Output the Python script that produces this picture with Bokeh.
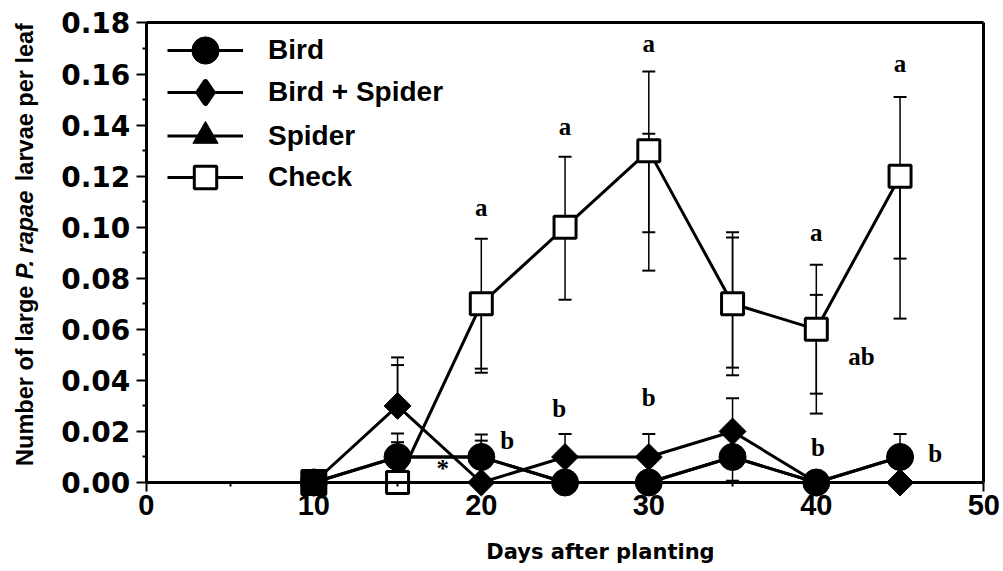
import math
import numpy as np
from bokeh.plotting import figure
from bokeh.models import (Range1d, LinearAxis, FixedTicker, Whisker, TeeHead,
                          ColumnDataSource, Legend, LegendItem, Label)
from bokeh.core.properties import value
from bokeh.embed import file_html
from bokeh.resources import INLINE

# ---------------- data ----------------
days = [10, 15, 20, 25, 30, 35, 40, 45]
bird = [0, 0.01, 0.01, 0, 0, 0.01, 0, 0.01]
bird_spider = [0, 0.03, 0, 0.01, 0.01, 0.02, 0, 0]
spider = [0, 0.01, 0.01, 0, 0, 0.01, 0, 0.01]     # hidden behind the Bird markers
check = [0, 0, 0.07, 0.10, 0.13, 0.07, 0.06, 0.12]

# error-bar ends (two overlaid sets of whiskers as in the original figure)
check_hi1 = [None, None, 0.0955, 0.1276, 0.161, 0.098, 0.0853, 0.151]
check_lo1 = [None, None, 0.0446, 0.0716, 0.098, 0.045, 0.0348, 0.0877]
check_hi2 = [None, None, None, None, 0.1366, 0.096, 0.0735, None]
check_lo2 = [None, None, 0.043, None, 0.083, 0.042, 0.027, 0.0642]
bird_hi1 = [None, 0.0192, 0.0188, None, None, None, None, 0.019]
bird_hi2 = [None, 0.0158, 0.0164, None, None, None, None, None]
bird_lo1 = [None, None, None, None, None, 0.0007, None, None]
bs_hi1 = [None, 0.049, None, 0.019, 0.019, 0.033, None, None]
bs_hi2 = [None, 0.046, None, None, None, None, None, None]

series_names = ["Bird", "Bird + Spider", "Spider", "Check"]

x_ticks = [0, 10, 20, 30, 40, 50]
x_minor = [5, 15, 25, 35, 45]
x_tick_labels = ["0", "10", "20", "30", "40", "50"]
y_ticks = [0.00, 0.02, 0.04, 0.06, 0.08, 0.10, 0.12, 0.14, 0.16, 0.18]
y_minor = [0.01, 0.03, 0.05, 0.07, 0.09, 0.11, 0.13, 0.15, 0.17]
y_tick_labels = ["0.00", "0.02", "0.04", "0.06", "0.08", "0.10", "0.12", "0.14", "0.16", "0.18"]

x_title = "Days after planting"
y_title_parts = ["Number of large", "P. rapae", "larvae per leaf"]

# significance letters
letters = ["a", "a", "a", "a", "a", "ab", "b", "b", "b", "b", "b", "*"]
letter_x = [20, 25, 30, 40, 45, 42.7, 21.55, 24.65, 30, 40.1, 47.1, 17.7]
letter_y = [0.1078, 0.1395, 0.172, 0.0979, 0.164, 0.0495, 0.0164, 0.0290,
            0.0333, 0.0138, 0.0114, 0.0055]

# marker styling for the Check series (the overlapping day-10 point reads as solid)
check_fill = ["black", "white", "white", "white", "white", "white", "white", "white"]
check_size = [24, 22, 22, 22, 22, 22, 22, 22]

# ---------------- figure ----------------
W, H = 1003, 571
X0_PX, PX_PER_DAY = 145.8, 16.75
Y0_PX, PX_PER_UNIT = 482.0, 2552.8
x_range = Range1d(-X0_PX / PX_PER_DAY, (W - X0_PX) / PX_PER_DAY)
y_range = Range1d(-(H - Y0_PX) / PX_PER_UNIT, Y0_PX / PX_PER_UNIT)

SANS = "DejaVu Sans"
LIB = "Liberation Sans"
p = figure(width=W, height=H, x_range=x_range, y_range=y_range,
           output_backend="svg", toolbar_location=None,
           x_axis_location=None, y_axis_location=None,
           min_border=0)
p.outline_line_color = None
p.background_fill_color = "white"
p.border_fill_color = "white"
p.grid.visible = False

xaxis = LinearAxis(fixed_location=0, bounds=(0, 50),
                   ticker=FixedTicker(ticks=x_ticks, minor_ticks=x_minor))
xaxis.major_label_overrides = dict(zip(x_ticks, x_tick_labels))
yaxis = LinearAxis(fixed_location=0, bounds=(0, 0.18),
                   ticker=FixedTicker(ticks=y_ticks, minor_ticks=y_minor))
yaxis.major_label_overrides = dict(zip(y_ticks, y_tick_labels))
for ax in (xaxis, yaxis):
    ax.axis_line_width = 3
    ax.axis_line_color = "black"
    ax.major_tick_line_width = 2
    ax.major_tick_out = 10
    ax.major_tick_in = 0
    ax.minor_tick_line_width = 2
    ax.minor_tick_out = 4
    ax.minor_tick_in = 0
    ax.major_label_text_font_style = "bold"
    ax.major_label_text_color = "black"
xaxis.major_label_text_font = LIB
xaxis.major_label_text_font_size = "29px"
xaxis.major_tick_out = 9
xaxis.major_label_standoff = 3
yaxis.major_label_text_font = SANS
yaxis.major_label_text_font_size = "28px"
yaxis.major_label_standoff = 6
p.add_layout(xaxis, "below")
p.add_layout(yaxis, "left")

top_ax = LinearAxis(fixed_location=0.18, bounds=(0, 50), ticker=FixedTicker(ticks=[]),
                    axis_line_width=3)
right_ax = LinearAxis(fixed_location=50, bounds=(0, 0.18), ticker=FixedTicker(ticks=[]),
                      axis_line_width=3)
p.add_layout(top_ax, "above")
p.add_layout(right_ax, "right")


# ---------------- error bars ----------------
def whisker(xs, means, ends, up=True, cap=13):
    bx, lo, hi = [], [], []
    for x, m, e in zip(xs, means, ends):
        if e is None:
            continue
        bx.append(x)
        if up:
            lo.append(m); hi.append(e)
        else:
            lo.append(e); hi.append(m)
    src = ColumnDataSource(dict(base=bx, lower=lo, upper=hi))
    head = TeeHead(size=cap, line_width=2, line_color="black")
    w = Whisker(base="base", lower="lower", upper="upper", source=src, dimension="height",
                line_width=1.5, line_color="black", level="underlay",
                upper_head=head if up else None, lower_head=None if up else head)
    p.add_layout(w)


whisker(days, check, check_hi1, up=True)
whisker(days, check, check_lo1, up=False)
whisker(days, check, check_hi2, up=True)
whisker(days, check, check_lo2, up=False)
whisker(days, bird, bird_hi1, up=True)
whisker(days, bird, bird_hi2, up=True)
whisker(days, bird, bird_lo1, up=False)
whisker(days, bird_spider, bs_hi1, up=True)
whisker(days, bird_spider, bs_hi2, up=True)

# ---------------- series ----------------
LW = 3
sp_line = p.line(days, spider, line_width=LW, color="black")
ck_line = p.line(days, check, line_width=LW, color="black")
bd_line = p.line(days, bird, line_width=LW, color="black")
bs_line = p.line(days, bird_spider, line_width=LW, color="black")

sp_pts = p.scatter(days, spider, marker="triangle", size=22, color="black")
bd_pts = p.scatter(days, bird, marker="circle", size=27, color="black")
bs_pts = p.scatter(days, bird_spider, marker="square", angle=math.pi / 4, size=19, color="black")
ck_src = ColumnDataSource(dict(x=days, y=check, fill=check_fill, size=check_size))
ck_pts = p.scatter("x", "y", source=ck_src, marker="square", size="size", line_width=3,
                   line_color="black", fill_color="fill")

# legend-only glyphs (the legend draws markers upright, sized from its box)
bs_leg = p.scatter([np.nan], [np.nan], marker="diamond", size=20, line_width=6,
                   line_join="round", color="black")
ck_leg = p.scatter([np.nan], [np.nan], marker="square", size=22, line_width=3,
                   line_color="black", fill_color="white")

# ---------------- legend (one block per row) ----------------
LEG_X = 167
row_centers = [50, 92, 135, 177]
row_renderers = [[bd_line, bd_pts], [bs_line, bs_leg], [sp_line, sp_pts], [ck_line, ck_leg]]
glyph_heights = [68, 52, 63, 56]
for name, rends, cy, gh in zip(series_names, row_renderers, row_centers, glyph_heights):
    lg = Legend(items=[LegendItem(label=name, renderers=rends)],
                location=(LEG_X, int(round(H - cy - gh / 2))), glyph_width=76, glyph_height=gh,
                padding=0, margin=0, spacing=0, label_standoff=25,
                label_text_font=LIB, label_text_font_style="bold",
                label_text_font_size="28px", label_text_color="black",
                label_text_baseline="middle",
                background_fill_alpha=0, border_line_color=None)
    p.add_layout(lg)

# letters
p.text(x=letter_x, y=letter_y, text=letters, text_font=value("Liberation Serif"),
       text_font_style="bold", text_font_size="25px", text_align="center",
       text_baseline="middle", text_color="black")

# axis titles
p.add_layout(Label(x=(600 - X0_PX) / PX_PER_DAY, y=0, y_offset=-69, text=x_title,
                   text_font=SANS, text_font_style="bold", text_font_size="21px",
                   text_align="center", text_baseline="middle", text_color="black"))

W_BOLD = {' ': 278, 'N': 722, 'u': 611, 'm': 889, 'b': 611, 'e': 556, 'r': 389, 'o': 611,
          'f': 333, 'l': 278, 'a': 556, 'g': 611, 'P': 667, '.': 278, 'p': 611, 'v': 556}
YF = 23.5


def tw(s):
    return sum(W_BOLD[c] for c in s) / 1000 * YF


sp = tw(" ")
w0, w1, w2 = (tw(s) for s in y_title_parts)
L = w0 + w1 + w2 + 2 * sp
starts = [-L / 2, -L / 2 + w0 + sp, -L / 2 + w0 + sp + w1 + sp]
styles = ["bold", "bold italic", "bold"]
y_center = (Y0_PX - 244) / PX_PER_UNIT
x_base = (24 - X0_PX) / PX_PER_DAY
for txt, st, off in zip(y_title_parts, styles, starts):
    p.add_layout(Label(x=x_base, y=y_center, y_offset=off, text=txt, angle=math.pi / 2,
                       text_font=LIB, text_font_style=st,
                       text_font_size=f"{YF}px", text_align="left",
                       text_baseline="alphabetic", text_color="black"))

open("out.html", "w").write(file_html(p, INLINE))
